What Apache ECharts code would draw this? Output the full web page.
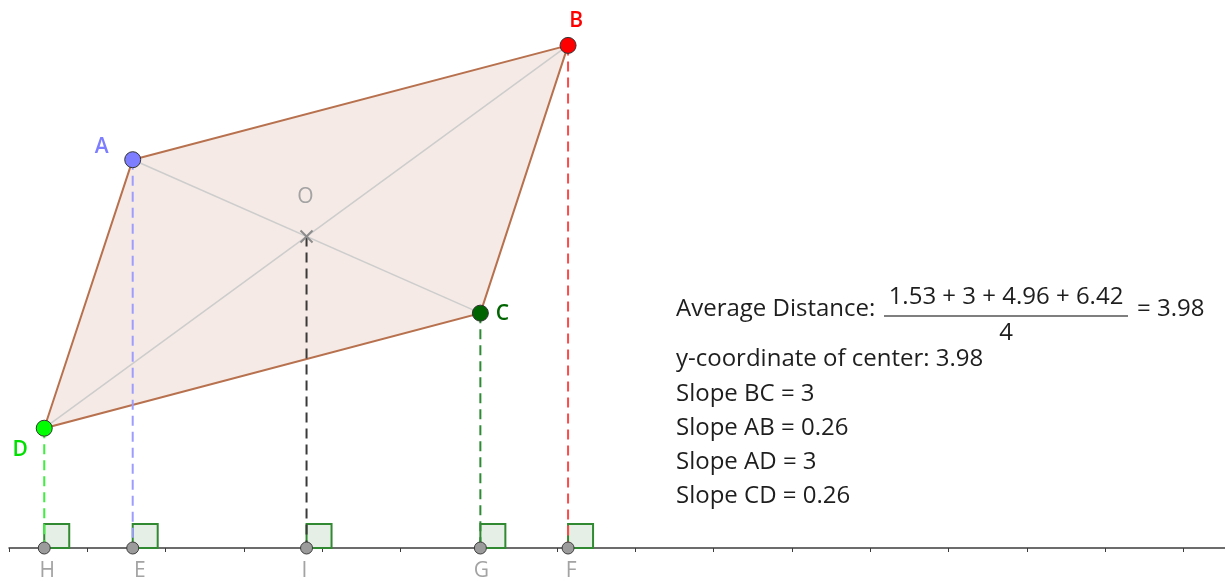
<!DOCTYPE html>
<html>
<head>
<meta charset="utf-8">
<script src="https://cdn.jsdelivr.net/npm/echarts@6/dist/echarts.min.js"></script>
<style>
html,body{margin:0;padding:0;background:#fff;}
#chart{width:1225px;height:581px;}
</style>
</head>
<body>
<div id="chart"></div>
<script>
// ---- data ----
const pointNames = ['A', 'B', 'C', 'D'];
const pointX = [1.58, 7.14, 6.02, 0.45];
const pointY = [4.96, 6.42, 3.00, 1.53];
const centerName = 'O';
const centerX = 3.80;
const centerY = 3.98;
const footNames = ['E', 'F', 'G', 'H', 'I'];          // feet of A, B, C, D, O
const distances = ['1.53', '3', '4.96', '6.42'];
const averageDistance = '3.98';
const centerYText = '3.98';
const slopeNames = ['BC', 'AB', 'AD', 'CD'];
const slopeValues = ['3', '0.26', '3', '0.26'];

// ---- styles ----
const FONT = 'Open Sans';
const pointColors = ['#7d7dff', '#ff0000', '#006400', '#00ff00'];
const pointLabelColors = ['#7d7dff', '#ff0000', '#006400', '#00e000'];
const pointLabelOffsets = [[-31, -13], [8, -24], [22, 1], [-24, 22]];
const dropColors = ['#9d9dff', '#ff4a4a', '#2f8a35', '#3ef03e', '#3a3a3a'];
const footLabelOffsets = [[7, 23], [3, 23], [1, 23], [3, 23], [-2, 23]];

const dropX = pointX.concat([centerX]);
const dropY = pointY.concat([centerY]);

const chart = echarts.init(document.getElementById('chart'));

const polyOrder = [0, 1, 2, 3];

const option = {
  animation: false,
  backgroundColor: '#ffffff',
  grid: { left: 9, right: 0, top: 0, bottom: 33 },
  xAxis: {
    type: 'value', min: 0, max: 15.53, interval: 1,
    axisLine: { show: true, lineStyle: { color: '#3c3c3c', width: 1.5 } },
    axisTick: { show: true, inside: false, length: 4, lineStyle: { color: '#3c3c3c', width: 1 } },
    axisLabel: { show: false },
    splitLine: { show: false }
  },
  yAxis: { type: 'value', min: 0, max: 7.0, show: false },
  series: [
    {
      type: 'custom', silent: true, z: 1,
      data: [[0, 0]],
      renderItem: function (params, api) {
        const pts = polyOrder.map(i => api.coord([pointX[i], pointY[i]]));
        const a = pts[0], b = pts[1], c = pts[2], d = pts[3];
        return {
          type: 'group',
          children: [
            { type: 'polygon', shape: { points: pts }, style: { fill: 'rgba(153,51,0,0.1)', stroke: 'none' } },
            { type: 'line', shape: { x1: a[0], y1: a[1], x2: c[0], y2: c[1] }, style: { stroke: '#cdcdcd', lineWidth: 1.5 } },
            { type: 'line', shape: { x1: b[0], y1: b[1], x2: d[0], y2: d[1] }, style: { stroke: '#cdcdcd', lineWidth: 1.5 } },
            { type: 'polygon', shape: { points: pts }, style: { fill: 'none', stroke: '#b8714e', lineWidth: 2 } }
          ]
        };
      }
    },
    {
      type: 'custom', silent: true, z: 2,
      data: dropX.map(x => [x, 0]),
      renderItem: function (params, api) {
        const p = api.coord([api.value(0), 0]);
        return {
          type: 'rect',
          shape: { x: p[0], y: p[1] - 24, width: 25, height: 24 },
          style: { fill: 'rgba(0,100,0,0.1)', stroke: '#318a31', lineWidth: 2 }
        };
      }
    },
    {
      type: 'custom', silent: true, z: 3,
      data: dropX.map((x, i) => [x, dropY[i]]),
      renderItem: function (params, api) {
        const x = api.value(0), y = api.value(1);
        const p1 = api.coord([x, y]);
        const p0 = api.coord([x, 0]);
        return {
          type: 'line',
          shape: { x1: p1[0], y1: p1[1], x2: p0[0], y2: p0[1] },
          style: { stroke: dropColors[params.dataIndex], lineWidth: 2, lineDash: [10, 6] }
        };
      }
    },
    {
      type: 'custom', silent: true, z: 4,
      data: [[centerX, centerY]],
      renderItem: function (params, api) {
        const p = api.coord([api.value(0), api.value(1)]);
        const s = 6;
        return {
          type: 'group',
          children: [
            { type: 'line', shape: { x1: p[0] - s, y1: p[1] - s, x2: p[0] + s, y2: p[1] + s }, style: { stroke: '#8c8c8c', lineWidth: 2 } },
            { type: 'line', shape: { x1: p[0] - s, y1: p[1] + s, x2: p[0] + s, y2: p[1] - s }, style: { stroke: '#8c8c8c', lineWidth: 2 } },
            { type: 'text', x: p[0] - 1, y: p[1] - 39, style: { text: centerName, fill: '#a3a3a3', font: '21px "' + FONT + '"', align: 'center', verticalAlign: 'middle' } }
          ]
        };
      }
    },
    {
      type: 'scatter', silent: true, z: 5, clip: false,
      symbol: 'circle', symbolSize: 12,
      itemStyle: { color: '#9b9b9b', borderColor: '#3d3d3d', borderWidth: 1, opacity: 1 },
      label: { show: true, position: 'inside', formatter: '{b}', color: '#a3a3a3', fontSize: 21, fontFamily: FONT },
      data: dropX.map((x, i) => ({
        name: footNames[i], value: [x, 0],
        label: { offset: footLabelOffsets[i] }
      }))
    },
    {
      type: 'scatter', silent: true, z: 6, clip: false,
      symbol: 'circle', symbolSize: 16,
      label: { show: true, position: 'inside', formatter: '{b}', fontSize: 21, fontWeight: 600, fontFamily: FONT },
      data: pointNames.map((n, i) => ({
        name: n, value: [pointX[i], pointY[i]],
        itemStyle: { color: pointColors[i], borderColor: '#333333', borderWidth: 1, opacity: 1 },
        label: { color: pointLabelColors[i], offset: pointLabelOffsets[i] }
      }))
    }
  ],
  graphic: []
};

// text block on the right
const textColor = '#1e1e1e';
const tFont = '24px "' + FONT + '"';
const g = [];
g.push({ type: 'text', x: 676, y: 309, style: { text: 'Average Distance:', fill: textColor, font: tFont, verticalAlign: 'middle', align: 'left' } });
g.push({ type: 'text', x: 1006, y: 297, style: { text: distances.join(' + '), fill: textColor, font: tFont, verticalAlign: 'middle', align: 'center' } });
g.push({ type: 'line', shape: { x1: 884, y1: 316, x2: 1128, y2: 316 }, style: { stroke: '#555', lineWidth: 1.5 } });
g.push({ type: 'text', x: 1006, y: 333, style: { text: String(distances.length), fill: textColor, font: tFont, verticalAlign: 'middle', align: 'center' } });
g.push({ type: 'text', x: 1137, y: 309, style: { text: '= ' + averageDistance, fill: textColor, font: tFont, verticalAlign: 'middle', align: 'left' } });
g.push({ type: 'text', x: 676, y: 359, style: { text: 'y-coordinate of center: ' + centerYText, fill: textColor, font: tFont, verticalAlign: 'middle', align: 'left' } });
const slopeYs = [394, 428, 462, 496];
slopeNames.forEach((n, i) => {
  g.push({ type: 'text', x: 676, y: slopeYs[i], style: { text: 'Slope ' + n + ' = ' + slopeValues[i], fill: textColor, font: tFont, verticalAlign: 'middle', align: 'left' } });
});
option.graphic = g;

chart.setOption(option);
</script>
</body>
</html>
